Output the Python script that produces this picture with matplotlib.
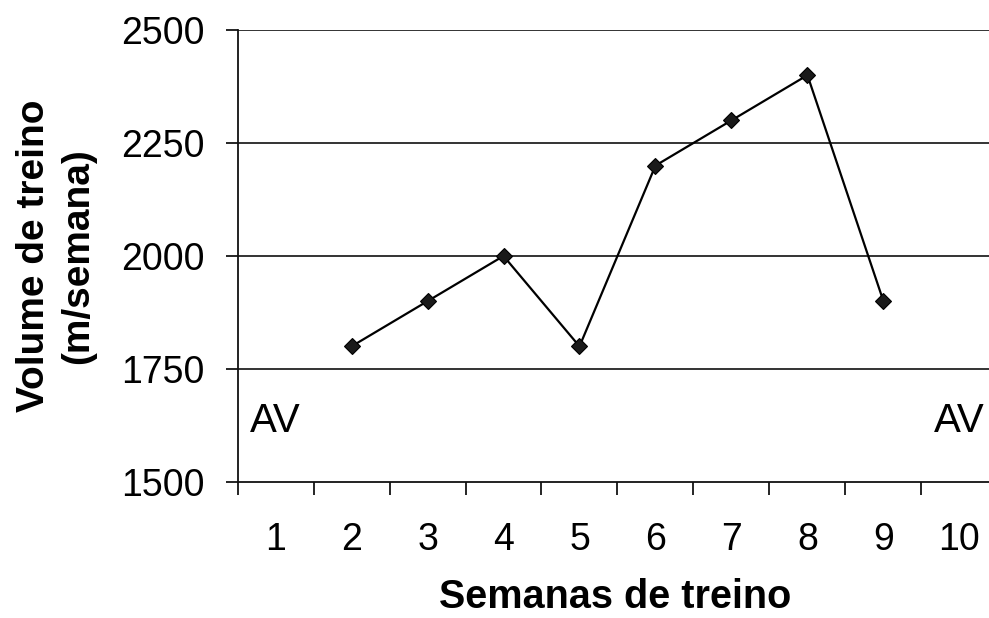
import matplotlib
matplotlib.use("Agg")
import matplotlib.pyplot as plt
from matplotlib.ticker import FixedLocator, NullFormatter

plt.rcParams['font.family'] = ['Liberation Sans', 'DejaVu Sans']

weeks = [1, 2, 3, 4, 5, 6, 7, 8, 9, 10]
data_weeks = [2, 3, 4, 5, 6, 7, 8, 9]
volume = [1800, 1900, 2000, 1800, 2200, 2300, 2400, 1900]
yticks = [1500, 1750, 2000, 2250, 2500]
av_weeks = [1, 10]
av_level = 1635

fig = plt.figure(figsize=(9.89, 6.18), dpi=100)
ax = fig.add_axes([0.2402, 0.2201, 0.7683, 0.7314])

ax.set_xlim(0.5, 10.5)
ax.set_ylim(1500, 2500)

for g in yticks[1:]:
    ax.axhline(g, color='#111111', lw=1.2, zorder=1)

ax.plot(data_weeks, volume, color='black', lw=1.6, marker='D', markersize=8,
        markerfacecolor='#1a1a1a', markeredgecolor='black', markeredgewidth=0.8,
        zorder=3, clip_on=False)

for w in av_weeks:
    ax.text(w, av_level, 'AV', ha='center', va='center', fontsize=29, clip_on=False)

for s in ['top', 'right']:
    ax.spines[s].set_visible(False)
for s in ['left', 'bottom']:
    ax.spines[s].set_linewidth(1.3)
    ax.spines[s].set_color('#111111')

ax.set_yticks(yticks)
ax.set_yticklabels([str(v) for v in yticks], fontsize=27)
ax.tick_params(axis='y', direction='out', length=9, width=1.2, pad=15)

ax.xaxis.set_major_locator(FixedLocator([w + 0.5 for w in [0] + weeks]))
ax.xaxis.set_major_formatter(NullFormatter())
ax.xaxis.set_minor_locator(FixedLocator(weeks))
ax.set_xticklabels([str(w) for w in weeks], minor=True, fontsize=27)
ax.tick_params(axis='x', which='major', direction='out', length=9.5, width=1.2)
ax.tick_params(axis='x', which='minor', length=0, pad=28.5)

fig.text(0.622, 0.016, 'Semanas de treino', ha='center', va='baseline',
         fontsize=28.5, fontweight='bold')
fig.text(0.057, 0.586, 'Volume de treino\n(m/semana)', ha='center', va='center',
         rotation=90, fontsize=28, fontweight='bold', linespacing=1.3)

fig.savefig('out.png', dpi=100)
